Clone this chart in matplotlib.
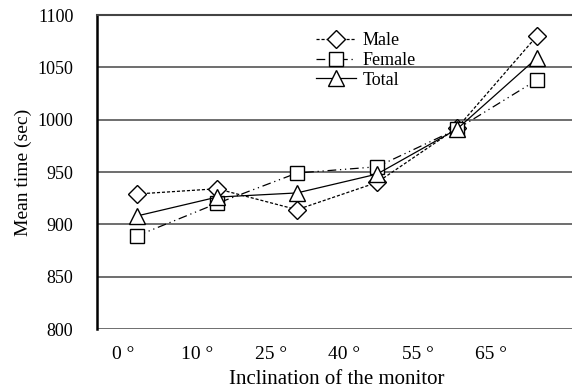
import matplotlib
matplotlib.use("Agg")
import matplotlib.pyplot as plt

# datos
angulos = ["0°", "10°", "25°", "40°", "55°", "65°"]
male = [929, 934, 914, 940, 992, 1080]
female = [889, 920, 949, 955, 991, 1038]
total = [908, 926, 930, 948, 991, 1059]
y_ticks = [800, 850, 900, 950, 1000, 1050, 1100]

plt.rcParams["font.family"] = ["Liberation Serif", "DejaVu Serif"]

fig = plt.figure(figsize=(5.72, 3.89), dpi=100)
ax = fig.add_axes([97 / 572, 60 / 389, 480 / 572, 314 / 389])

x = list(range(len(angulos)))
mk = dict(markersize=10, markerfacecolor="white", markeredgecolor="black",
          markeredgewidth=1.0, color="black", linewidth=0.9)

ax.plot(x, male, linestyle=(0, (2.5, 1.5)), marker="D", label="Male",
        **{**mk, "markersize": 9.5})
ax.plot(x, female, linestyle=(0, (7, 3, 1, 3, 1, 3)), marker="s", label="Female", **mk)
ax.plot(x, total, linestyle="-", marker="^", label="Total",
        **{**mk, "markersize": 11})

ax.set_xlim(-0.5, 5.5)
ax.set_ylim(800, 1100)
ax.set_yticks(y_ticks)
ax.yaxis.grid(True, color="#555555", linewidth=1.2)
ax.set_axisbelow(True)

# las etiquetas del eje x estan corridas respecto a los puntos
pos_etiquetas = [i * 0.92 - 0.17 for i in x]
ax.set_xticks(pos_etiquetas)
ax.set_xticklabels([a.replace("°", " °") for a in angulos], fontsize=14)
ax.tick_params(axis="x", length=0, pad=12)
ax.tick_params(axis="y", length=0, pad=17, labelsize=13)

for s in ["right", "bottom"]:
    ax.spines[s].set_visible(False)
ax.spines["left"].set_linewidth(1.8)
ax.spines["top"].set_linewidth(1.5)
ax.spines["top"].set_color("#444444")

ax.set_ylabel("Mean time (sec)", fontsize=14, labelpad=4)
ax.set_xlabel("Inclination of the monitor", fontsize=15, labelpad=5)

leg = ax.legend(loc="upper left", bbox_to_anchor=(0.43, 0.985), frameon=False,
                fontsize=13, handlelength=2.2, labelspacing=0.15,
                borderpad=0.2, handletextpad=0.4)

fig.savefig("out.png", dpi=100)
